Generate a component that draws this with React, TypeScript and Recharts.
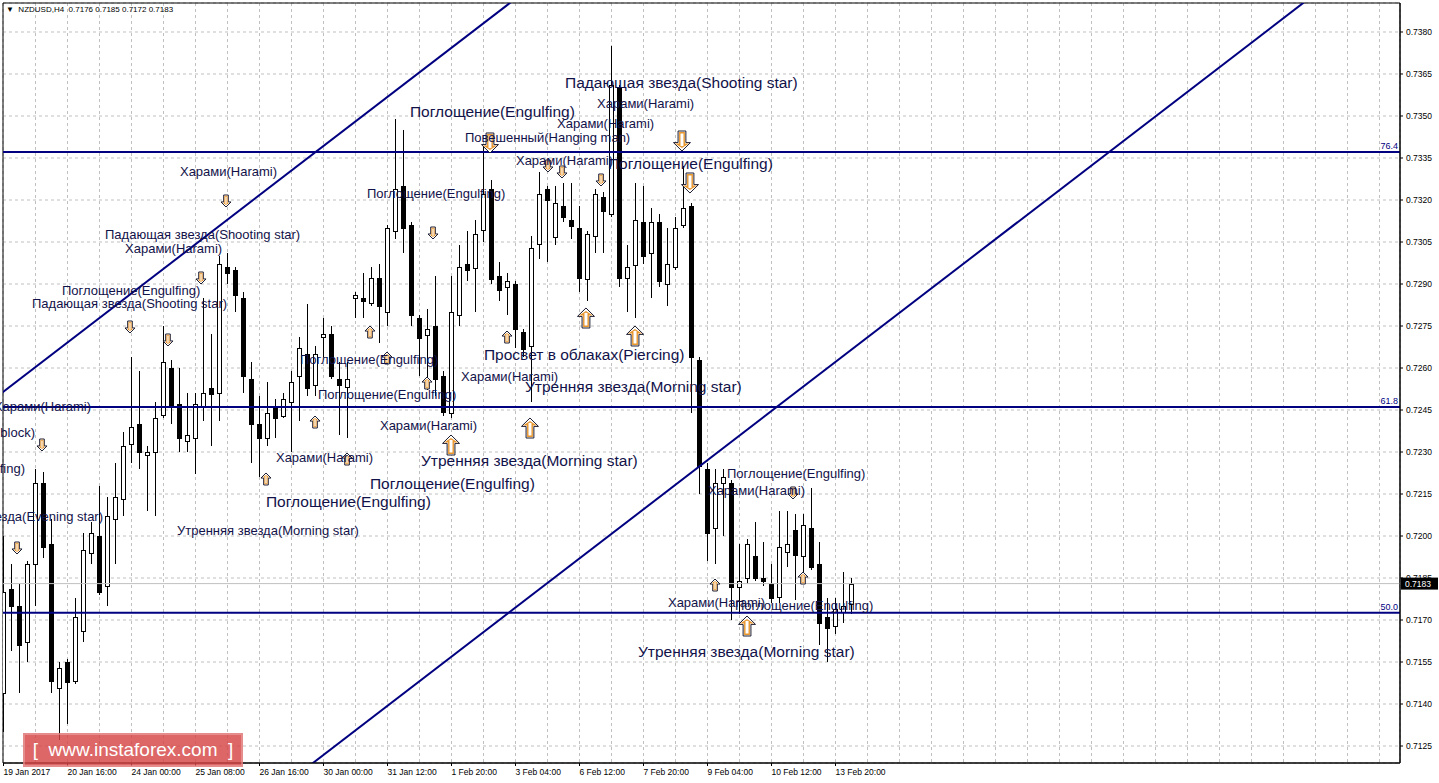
import React from 'react';
import {
  ComposedChart, Bar, XAxis, YAxis, CartesianGrid, ReferenceLine, ReferenceDot, ReferenceArea,
} from 'recharts';

// NZDUSD H4, one entry per bar (bar 0 = 19 Jan 2017)
const opens = [
  0.7144, 0.7181, 0.7175, 0.7162, 0.7190, 0.7219, 0.7197, 0.7146, 0.7155, 0.7148,
  0.7166, 0.7194, 0.7200, 0.7182, 0.7206, 0.7213, 0.7233, 0.7240, 0.7229, 0.7230,
  0.7243, 0.7260, 0.7247, 0.7234, 0.7235, 0.7246, 0.7253, 0.7251, 0.7296, 0.7295,
  0.7285, 0.7256, 0.7240, 0.7235, 0.7246, 0.7243, 0.7248, 0.7257, 0.7265, 0.7254,
  0.7271, 0.7272, 0.7256, 0.7253, 0.7285, 0.7285, 0.7283, 0.7292, 0.7280, 0.7309,
  0.7325, 0.7311, 0.7278, 0.7272, 0.7275, 0.7257, 0.7244, 0.7279, 0.7297, 0.7296,
  0.7309, 0.7324, 0.7293, 0.7289, 0.7290, 0.7273, 0.7268, 0.7304, 0.7324, 0.7307,
  0.7318, 0.7313, 0.7310, 0.7292, 0.7307, 0.7321, 0.7315, 0.7360, 0.7292, 0.7297,
  0.7312, 0.7301, 0.7312, 0.7290, 0.7296, 0.7311, 0.7318, 0.7263, 0.7224, 0.7203,
  0.7219, 0.7219, 0.7182, 0.7185, 0.7193, 0.7185, 0.7183, 0.7178, 0.7194, 0.7202,
  0.7193, 0.7203, 0.7190, 0.7171, 0.7168, 0.7173, 0.7176,
];
const highs = [
  0.7200, 0.7190, 0.7183, 0.7191, 0.7224, 0.7223, 0.7206, 0.7155, 0.7156, 0.7178,
  0.7201, 0.7205, 0.7218, 0.7214, 0.7226, 0.7237, 0.7264, 0.7259, 0.7232, 0.7248,
  0.7275, 0.7263, 0.7260, 0.7251, 0.7251, 0.7285, 0.7272, 0.7300, 0.7301, 0.7296,
  0.7287, 0.7262, 0.7250, 0.7255, 0.7249, 0.7251, 0.7259, 0.7271, 0.7283, 0.7268,
  0.7278, 0.7275, 0.7262, 0.7262, 0.7287, 0.7294, 0.7296, 0.7297, 0.7311, 0.7349,
  0.7345, 0.7312, 0.7279, 0.7281, 0.7293, 0.7259, 0.7293, 0.7304, 0.7309, 0.7313,
  0.7340, 0.7327, 0.7298, 0.7294, 0.7291, 0.7274, 0.7307, 0.7330, 0.7325, 0.7325,
  0.7326, 0.7326, 0.7318, 0.7309, 0.7324, 0.7323, 0.7375, 0.7361, 0.7304, 0.7326,
  0.7325, 0.7317, 0.7315, 0.7310, 0.7314, 0.7332, 0.7319, 0.7264, 0.7226, 0.7224,
  0.7224, 0.7220, 0.7197, 0.7199, 0.7205, 0.7198, 0.7190, 0.7209, 0.7209, 0.7208,
  0.7208, 0.7217, 0.7198, 0.7178, 0.7178, 0.7187, 0.7185,
];
const lows = [
  0.7130, 0.7159, 0.7144, 0.7155, 0.7175, 0.7192, 0.7144, 0.7127, 0.7133, 0.7147,
  0.7162, 0.7190, 0.7179, 0.7175, 0.7190, 0.7207, 0.7226, 0.7224, 0.7209, 0.7207,
  0.7242, 0.7240, 0.7230, 0.7230, 0.7222, 0.7241, 0.7232, 0.7241, 0.7290, 0.7280,
  0.7251, 0.7226, 0.7221, 0.7232, 0.7235, 0.7242, 0.7230, 0.7241, 0.7250, 0.7250,
  0.7264, 0.7256, 0.7236, 0.7235, 0.7278, 0.7278, 0.7282, 0.7269, 0.7275, 0.7306,
  0.7301, 0.7275, 0.7257, 0.7252, 0.7250, 0.7243, 0.7242, 0.7275, 0.7291, 0.7280,
  0.7305, 0.7290, 0.7284, 0.7279, 0.7267, 0.7264, 0.7248, 0.7299, 0.7298, 0.7304,
  0.7312, 0.7306, 0.7287, 0.7284, 0.7301, 0.7301, 0.7314, 0.7289, 0.7280, 0.7278,
  0.7297, 0.7285, 0.7289, 0.7282, 0.7295, 0.7310, 0.7244, 0.7215, 0.7191, 0.7190,
  0.7200, 0.7170, 0.7172, 0.7183, 0.7184, 0.7182, 0.7176, 0.7176, 0.7189, 0.7177,
  0.7186, 0.7188, 0.7161, 0.7155, 0.7165, 0.7169, 0.7172,
];
const closes = [
  0.7180, 0.7175, 0.7161, 0.7190, 0.7219, 0.7196, 0.7148, 0.7153, 0.7148, 0.7171,
  0.7195, 0.7201, 0.7180, 0.7207, 0.7214, 0.7232, 0.7239, 0.7230, 0.7230, 0.7242,
  0.7262, 0.7246, 0.7235, 0.7236, 0.7247, 0.7251, 0.7251, 0.7297, 0.7294, 0.7286,
  0.7257, 0.7240, 0.7235, 0.7244, 0.7242, 0.7249, 0.7255, 0.7267, 0.7253, 0.7265,
  0.7272, 0.7257, 0.7254, 0.7256, 0.7286, 0.7284, 0.7292, 0.7282, 0.7310, 0.7324,
  0.7310, 0.7279, 0.7271, 0.7274, 0.7256, 0.7244, 0.7280, 0.7296, 0.7295, 0.7308,
  0.7322, 0.7292, 0.7288, 0.7291, 0.7274, 0.7267, 0.7303, 0.7322, 0.7320, 0.7319,
  0.7314, 0.7311, 0.7292, 0.7308, 0.7322, 0.7316, 0.7361, 0.7292, 0.7296, 0.7313,
  0.7300, 0.7312, 0.7291, 0.7297, 0.7310, 0.7317, 0.7264, 0.7225, 0.7201, 0.7219,
  0.7221, 0.7182, 0.7184, 0.7197, 0.7185, 0.7184, 0.7178, 0.7196, 0.7197, 0.7193,
  0.7204, 0.7189, 0.7169, 0.7167, 0.7174, 0.7175, 0.7183,
];

const timeTicks = [0, 8, 16, 24, 32, 40, 48, 56, 64, 72, 80, 88, 96, 104];
const timeLabels = [
  '19 Jan 2017', '20 Jan 16:00', '24 Jan 00:00', '25 Jan 08:00', '26 Jan 16:00', '30 Jan 00:00',
  '31 Jan 12:00', '1 Feb 20:00', '3 Feb 04:00', '6 Feb 12:00', '7 Feb 20:00', '9 Feb 04:00',
  '10 Feb 12:00', '13 Feb 20:00',
];
const priceTicks = [
  0.7125, 0.714, 0.7155, 0.717, 0.7185, 0.72, 0.7215, 0.723, 0.7245,
  0.726, 0.7275, 0.729, 0.7305, 0.732, 0.7335, 0.735, 0.7365, 0.738,
];

const fibLevels = [
  { name: '76.4', price: 0.73371 },
  { name: '61.8', price: 0.72461 },
  { name: '50.0', price: 0.71726 },
];
const lastPrice = 0.7183;

const channelUpper = [{ x: -10, y: 0.722964 }, { x: 70, y: 0.740507 }];
const channelLower = [{ x: 30, y: 0.709989 }, { x: 180, y: 0.742882 }];

const patternLabels = [
  { bar: 50.81, price: 0.735143, text: 'Поглощение(Engulfing)', big: true },
  { bar: 70.19, price: 0.736179, text: 'Падающая звезда(Shooting star)', big: true },
  { bar: 75.56, price: 0.733286, text: 'Поглощение(Engulfing)', big: true },
  { bar: 60.06, price: 0.726464, text: 'Просвет в облаках(Piercing)', big: true },
  { bar: 65.19, price: 0.725321, text: 'Утренняя звезда(Morning star)', big: true },
  { bar: 52.19, price: 0.722679, text: 'Утренняя звезда(Morning star)', big: true },
  { bar: 45.81, price: 0.721857, text: 'Поглощение(Engulfing)', big: true },
  { bar: 32.81, price: 0.721214, text: 'Поглощение(Engulfing)', big: true },
  { bar: 79.31, price: 0.715857, text: 'Утренняя звезда(Morning star)', big: true },
  { bar: 22.06, price: 0.733036, text: 'Харами(Harami)' },
  { bar: 12.69, price: 0.730786, text: 'Падающая звезда(Shooting star)' },
  { bar: 15.19, price: 0.730286, text: 'Харами(Harami)' },
  { bar: 7.31, price: 0.728786, text: 'Поглощение(Engulfing)' },
  { bar: 3.56, price: 0.728321, text: 'Падающая звезда(Shooting star)' },
  { bar: 45.44, price: 0.73225, text: 'Поглощение(Engulfing)' },
  { bar: 57.69, price: 0.73425, text: 'Повешенный(Hanging man)' },
  { bar: 74.19, price: 0.735464, text: 'Харами(Harami)' },
  { bar: 69.19, price: 0.73475, text: 'Харами(Harami)' },
  { bar: 64.06, price: 0.733429, text: 'Харами(Harami)' },
  { bar: 37.06, price: 0.726321, text: 'Поглощение(Engulfing)' },
  { bar: 39.31, price: 0.725071, text: 'Поглощение(Engulfing)' },
  { bar: 57.19, price: 0.725714, text: 'Харами(Harami)' },
  { bar: 47.06, price: 0.723964, text: 'Харами(Harami)' },
  { bar: 34.06, price: 0.722821, text: 'Харами(Harami)' },
  { bar: 21.69, price: 0.720214, text: 'Утренняя звезда(Morning star)' },
  { bar: 90.44, price: 0.72225, text: 'Поглощение(Engulfing)' },
  { bar: 88.06, price: 0.721643, text: 'Харами(Harami)' },
  { bar: 83.06, price: 0.717643, text: 'Харами(Harami)' },
  { bar: 91.44, price: 0.717536, text: 'Поглощение(Engulfing)' },
  { bar: 10.94, price: 0.724643, text: 'Харами(Harami)', end: true },
  { bar: 3.94, price: 0.723714, text: 'block)', end: true },
  { bar: 2.69, price: 0.722429, text: 'Поглощение(Engulfing)', end: true },
  { bar: 12.44, price: 0.720714, text: 'Вечерняя звезда(Evening star)', end: true },
];

const arrows = [
  { bar: 27.81, price: 0.731964, dir: 'down' },
  { bar: 24.69, price: 0.729214, dir: 'down' },
  { bar: 15.81, price: 0.727464, dir: 'down' },
  { bar: 20.56, price: 0.727, dir: 'down' },
  { bar: 4.81, price: 0.72325, dir: 'down' },
  { bar: 1.69, price: 0.719571, dir: 'down' },
  { bar: 53.69, price: 0.730821, dir: 'down' },
  { bar: 69.81, price: 0.733, dir: 'down' },
  { bar: 74.69, price: 0.732714, dir: 'down' },
  { bar: 98.69, price: 0.721536, dir: 'down' },
  { bar: 68.06, price: 0.733214, dir: 'down' },
  { bar: 45.81, price: 0.727286, dir: 'up' },
  { bar: 38.94, price: 0.724071, dir: 'up' },
  { bar: 32.81, price: 0.722036, dir: 'up' },
  { bar: 52.94, price: 0.725464, dir: 'up' },
  { bar: 47.94, price: 0.726357, dir: 'up' },
  { bar: 62.94, price: 0.727107, dir: 'up' },
  { bar: 88.94, price: 0.71825, dir: 'up' },
  { bar: 99.94, price: 0.7185, dir: 'up' },
  { bar: 42.94, price: 0.72275, dir: 'up' },
  { bar: 72.81, price: 0.727786, dir: 'up', big: true },
  { bar: 78.94, price: 0.727143, dir: 'up', big: true },
  { bar: 55.94, price: 0.72325, dir: 'up', big: true },
  { bar: 65.81, price: 0.723857, dir: 'up', big: true },
  { bar: 92.94, price: 0.716786, dir: 'up', big: true },
  { bar: 60.81, price: 0.734036, dir: 'down', big: true },
  { bar: 84.81, price: 0.734107, dir: 'down', big: true },
  { bar: 85.81, price: 0.732607, dir: 'down', big: true },
];

const X_DOMAIN: [number, number] = [-0.0625, 174.5625];
const Y_DOMAIN: [number, number] = [0.7118929, 0.7390357];
const gridBars = Array.from({ length: 44 }, (_, i) => i * 4);

const NAVY = '#000080';
const TEXT = '#12124a';
const AXIS_FONT = "'Liberation Sans', Arial, sans-serif";

const data = opens.map((open, i) => ({
  bar: i,
  open,
  high: highs[i],
  low: lows[i],
  close: closes[i],
  range: [lows[i], highs[i]],
}));

const Candle = (props: any) => {
  const { x, y, width, height, payload } = props;
  if (x == null || y == null) return null;
  const { open, close, high, low } = payload;
  const top = Math.min(y, y + height);
  const h = Math.abs(height);
  const k = high > low ? h / (high - low) : 0;
  const cx = Math.floor(x + width / 2) + 0.5;
  const bTop = top + (high - Math.max(open, close)) * k;
  const bBot = top + (high - Math.min(open, close)) * k;
  const up = close >= open;
  const ry = Math.round(bTop) + 0.5;
  const rh = Math.max(Math.round(bBot - bTop), 0);
  return (
    <g>
      <line x1={cx} x2={cx} y1={Math.round(top)} y2={Math.round(top + h)} stroke="#000" strokeWidth={1} />
      <rect x={cx - 2} y={ry} width={4} height={rh} fill={up ? '#fff' : '#000'} stroke="#000" strokeWidth={1} />
    </g>
  );
};

// hollow wingdings-like arrow; y offsets are measured downwards for a down arrow
const arrowPoints = (
  cx: number, cy: number, headW: number, shaftW: number,
  top: number, neck: number, tip: number, dir: string,
) => {
  const s = dir === 'down' ? 1 : -1;
  const pts = [
    [-shaftW / 2, top], [shaftW / 2, top], [shaftW / 2, neck], [headW / 2, neck],
    [0, tip], [-headW / 2, neck], [-shaftW / 2, neck],
  ];
  return pts.map(([px, py]) => `${cx + px},${cy + py * s}`).join(' ');
};

const Arrow = ({ cx, cy, dir, big }: any) => {
  const w = big ? 17 : 10;
  const h = big ? 20 : 12;
  const sw = w * 0.46;
  const d = big ? 1.7 : 1.2;
  const outer = arrowPoints(cx, cy, w, sw, -h / 2, h * 0.08, h / 2, dir);
  const inner = arrowPoints(cx, cy, w - 4.6 * d, sw - 2 * d, -h / 2 + d, h * 0.08 + d, h / 2 - 2.2 * d, dir);
  return (
    <g>
      <polygon points={outer} fill="#fff" stroke="#1c1c30" strokeWidth={1} />
      <polygon points={inner} fill="none" stroke="#e8962e" strokeWidth={big ? 1.4 : 1} />
    </g>
  );
};

const TimeTick = ({ x, y, payload }: any) => {
  const idx = timeTicks.indexOf(payload.value);
  return (
    <text x={x} y={y} dy={8} textAnchor="start" fontSize={8.5} fontFamily={AXIS_FONT} fill="#000">
      {timeLabels[idx]}
    </text>
  );
};

const PriceTick = ({ x, y, payload }: any) => (
  <text x={x} y={y} dy={3} textAnchor="start" fontSize={8.5} fontFamily={AXIS_FONT} fill="#000">
    {payload.value.toFixed(4)}
  </text>
);

const FibLabel = ({ viewBox, value }: any) => (
  <text x={viewBox.x + viewBox.width - 2} y={viewBox.y - 3} textAnchor="end" fontSize={9} fontFamily={AXIS_FONT} fill={NAVY}>
    {value}
  </text>
);

const PriceTag = ({ viewBox }: any) => (
  <g>
    <rect x={viewBox.x + viewBox.width + 1} y={viewBox.y - 6} width={37} height={12} fill="#000" />
    <text x={viewBox.x + viewBox.width + 5} y={viewBox.y + 3} fontSize={8.5} fontFamily={AXIS_FONT} fill="#fff">
      {lastPrice.toFixed(4)}
    </text>
  </g>
);

export default function App() {
  return (
    <div style={{ position: 'absolute', left: 0, top: 0, width: 1439, height: 783, background: '#fff' }}>
      <ComposedChart width={1439} height={783} data={data} margin={{ top: 3, right: 0, bottom: 0, left: 3 }}>
        <XAxis xAxisId="grid" type="number" dataKey="bar" domain={X_DOMAIN} ticks={gridBars} allowDataOverflow hide />
        <CartesianGrid xAxisId="grid" stroke="#c0c0c0" strokeDasharray="3 3" />
        <XAxis
          type="number"
          dataKey="bar"
          domain={X_DOMAIN}
          allowDataOverflow
          ticks={timeTicks}
          interval={0}
          height={20}
          tick={<TimeTick />}
          tickSize={3}
          tickMargin={1}
          axisLine={{ stroke: '#000' }}
          tickLine={{ stroke: '#000' }}
        />
        <YAxis
          orientation="right"
          type="number"
          domain={Y_DOMAIN}
          allowDataOverflow
          ticks={priceTicks}
          interval={0}
          width={39}
          tick={<PriceTick />}
          tickSize={3}
          tickMargin={3}
          axisLine={{ stroke: '#000' }}
          tickLine={{ stroke: '#000' }}
        />
        <ReferenceLine y={lastPrice} stroke="#c0c0c0" strokeWidth={1} label={<PriceTag />} />
        <Bar dataKey="range" barSize={5} shape={<Candle />} isAnimationActive={false} />
        {fibLevels.map((f) => (
          <ReferenceLine key={f.name} y={f.price} stroke={NAVY} strokeWidth={2} label={<FibLabel value={f.name} />} />
        ))}
        <ReferenceLine segment={channelUpper} stroke={NAVY} strokeWidth={2} ifOverflow="hidden" />
        <ReferenceLine segment={channelLower} stroke={NAVY} strokeWidth={2} ifOverflow="hidden" />
        <ReferenceArea x1={X_DOMAIN[0]} x2={X_DOMAIN[1]} y1={Y_DOMAIN[0]} y2={Y_DOMAIN[1]} fill="none" stroke="#000" strokeOpacity={1} />
        {arrows.map((a, i) => (
          <ReferenceDot
            key={`a-${i}`}
            x={a.bar}
            y={a.price}
            r={0}
            shape={(p: any) => <Arrow cx={p.cx} cy={p.cy} dir={a.dir} big={a.big} />}
          />
        ))}
        {patternLabels.map((t, i) => (
          <ReferenceDot
            key={`t-${i}`}
            x={t.bar}
            y={t.price}
            r={0}
            shape={(p: any) => (
              <text
                x={p.cx}
                y={p.cy}
                dy="0.35em"
                textAnchor={t.end ? 'end' : 'start'}
                fontSize={t.big ? 15.5 : 13}
                fontFamily="'Liberation Sans', Arial, sans-serif"
                fill={TEXT}
              >
                {t.text}
              </text>
            )}
          />
        ))}
      </ComposedChart>
      <div
        style={{
          position: 'absolute', left: 6, top: 4, fontSize: 8, fontFamily: AXIS_FONT, color: '#000',
          whiteSpace: 'pre', lineHeight: '12px',
        }}
      >
        {'▼  NZDUSD,H4  0.7176 0.7185 0.7172 0.7183'}
      </div>
      <div
        style={{
          position: 'absolute', left: 23, top: 733, width: 220, height: 34,
          background: 'rgba(214, 70, 70, 0.82)', color: '#fff', fontSize: 19,
          fontFamily: "'Liberation Sans', Arial, sans-serif", lineHeight: '34px', whiteSpace: 'pre',
          textAlign: 'center', boxShadow: 'inset 0 0 0 2px rgba(255,255,255,0.25)',
        }}
      >
        {'[  www.instaforex.com  ]'}
      </div>
    </div>
  );
}
